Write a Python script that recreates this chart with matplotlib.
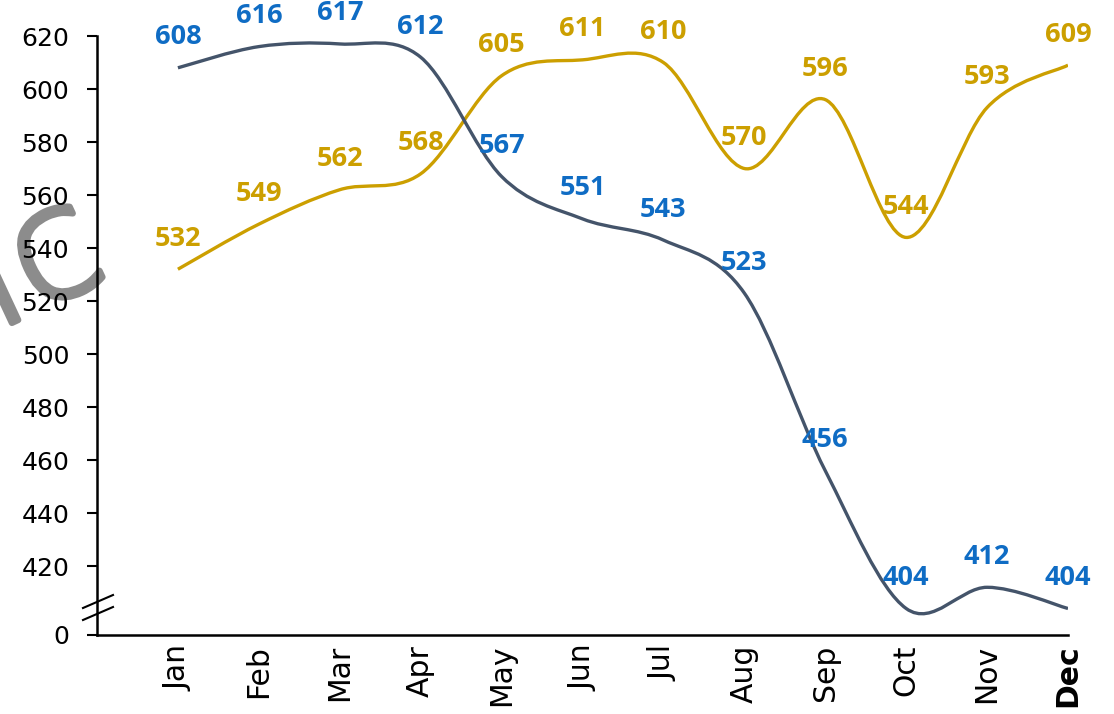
import numpy as np
import matplotlib
matplotlib.use("Agg")
import matplotlib.pyplot as plt
import matplotlib.patheffects as pe
from matplotlib.path import Path
from matplotlib.patches import PathPatch

months = ["Jan", "Feb", "Mar", "Apr", "May", "Jun", "Jul", "Aug", "Sep", "Oct", "Nov", "Dec"]
series_blue = [608, 616, 617, 612, 567, 551, 543, 523, 456, 404, 412, 404]
series_gold = [532, 549, 562, 568, 605, 611, 610, 570, 596, 544, 593, 609]
ytick_values = [394, 420, 440, 460, 480, 500, 520, 540, 560, 580, 600, 620]
ytick_labels = ["0", "420", "440", "460", "480", "500", "520", "540", "560", "580", "600", "620"]

LINE_BLUE = "#44546A"
LABEL_BLUE = "#0F6CC4"
GOLD = "#CC9F00"
WATERMARK = "#8C8C8C"

fig = plt.figure(figsize=(11.14, 7.14), dpi=100)
ax = fig.add_axes([97 / 1114, 1 - 635 / 714, (1068 - 97) / 1114, (635 - 36) / 714])
ax.patch.set_alpha(0)

x = np.arange(1, len(months) + 1, dtype=float)


def smooth_path(xs, ys):
    pts = np.column_stack([xs, ys]).astype(float)
    n = len(pts)
    verts = [pts[0]]
    codes = [Path.MOVETO]
    for i in range(n - 1):
        p0 = pts[i - 1] if i > 0 else pts[i]
        p1 = pts[i]
        p2 = pts[i + 1]
        p3 = pts[i + 2] if i + 2 < n else pts[i + 1]
        c1 = p1 + (p2 - p0) / 6.0
        c2 = p2 - (p3 - p1) / 6.0
        verts += [c1, c2, p2]
        codes += [Path.CURVE4] * 3
    return Path(verts, codes)


for vals, col in [(series_gold, GOLD), (series_blue, LINE_BLUE)]:
    patch = PathPatch(smooth_path(x, vals), facecolor="none", edgecolor=col,
                      lw=2.4, capstyle="butt", zorder=3)
    ax.add_patch(patch)

for vals, col in [(series_gold, GOLD), (series_blue, LABEL_BLUE)]:
    for xi, v in zip(x, vals):
        ax.annotate(str(v), (xi, v), xytext=(0, 22), textcoords="offset points",
                    ha="center", va="center", color=col, fontsize=19.5,
                    fontweight="bold", family="Open Sans", zorder=5)

ax.set_xlim(0, 12)
ax.set_ylim(394, 620)
ax.set_yticks(ytick_values)
ax.set_yticklabels(ytick_labels, fontsize=18, family="DejaVu Sans")
ax.set_xticks(x)
ax.set_xticklabels(months, rotation=90, fontsize=21.5, family="DejaVu Sans")
ax.get_xticklabels()[-1].set_fontweight("bold")
ax.tick_params(axis="x", length=0, pad=7)
ax.tick_params(axis="y", length=7, width=1.5, pad=13, direction="out")
for s in ["top", "right"]:
    ax.spines[s].set_visible(False)
ax.spines["left"].set_linewidth(1.8)
ax.spines["bottom"].set_linewidth(1.8)

# axis break marks
for dy in (0.0, -12 / 599):
    ax.plot([-14 / 971, 16 / 971], [27 / 599 + dy, 40 / 599 + dy], transform=ax.transAxes,
            color="black", lw=1.5, clip_on=False, zorder=6)

# watermark fragment (behind the axes)
fig.text(36 / 1114, 1 - 264 / 714, "lc", rotation=25, rotation_mode="anchor",
         fontsize=112, color=WATERMARK, ha="center", va="center",
         family="DejaVu Sans", fontweight="light", zorder=-1,
         path_effects=[pe.withStroke(linewidth=4.5, foreground=WATERMARK)])

fig.savefig("out.png", dpi=100)
